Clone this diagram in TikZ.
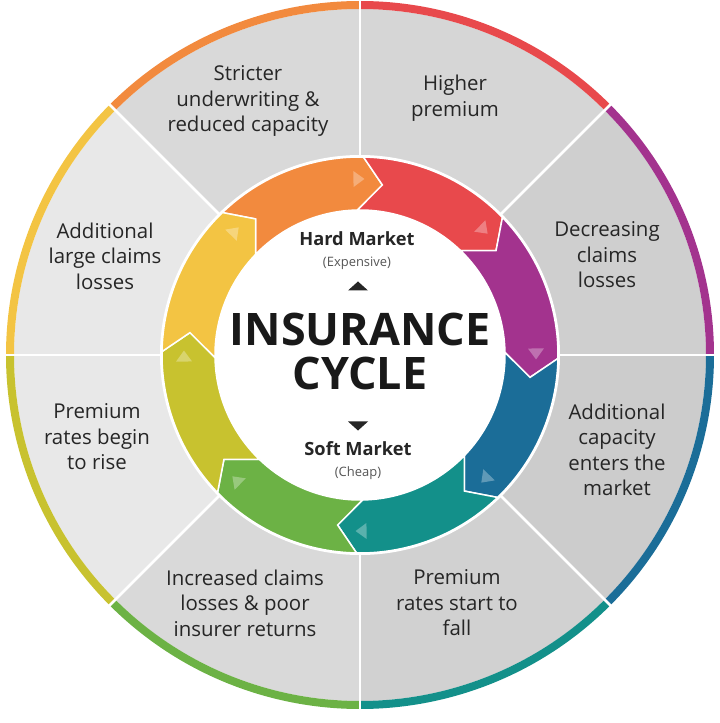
\documentclass[tikz,border=0pt]{standalone}
\usepackage{fontspec}
\setmainfont{Open Sans}
\usepackage{tikz}
\definecolor{cycorange}{HTML}{F28A3E}
\definecolor{cycred}{HTML}{E8494C}
\definecolor{cycpurple}{HTML}{A3338E}
\definecolor{cycblue}{HTML}{1B6D98}
\definecolor{cycteal}{HTML}{13908A}
\definecolor{cycgreen}{HTML}{6CB245}
\definecolor{cycolive}{HTML}{C8C22F}
\definecolor{cycyellow}{HTML}{F3C443}
\definecolor{labelgrey}{HTML}{262626}
\definecolor{notegrey}{HTML}{555555}
% one arrow of the inner ring: colour, tail angle, head angle
\newcommand{\ringseg}[3]{%
	\fill[#1, draw=white, line width=1.5bp] (#2+6.5:198) arc[start angle=#2+6.5, end angle=#3+6.5, radius=198]
	-- (#3:171.5) -- (#3+8.5:145) arc[start angle=#3+8.5, end angle=#2+8.5, radius=145]
	-- (#2:171.5) -- cycle;
	\fill[white, opacity=0.3, shift={(#3+8:176)}, rotate=#3-82] (6,0) -- (-5,8) -- (-5,-8) -- cycle;
}
\begin{document}
\begin{tikzpicture}[x=1bp, y=1bp]
	\tikzstyle{stagetext}=[align=center, text=labelgrey, font=\fontsize{20.5}{25.5}\selectfont]
	\tikzstyle{marketname}=[text=labelgrey, font=\fontsize{18.3}{18}\selectfont\bfseries]
	\tikzstyle{marketnote}=[text=notegrey, font=\fontsize{13}{13}\selectfont]
	\tikzstyle{titletext}=[text=black!90, font=\fontsize{45}{45}\selectfont\bfseries]
	\useasboundingbox (-360,-368) rectangle (360,355);
	%%% GREY SECTORS %%%
	\fill[black!16] (0,0) -- (45:346) arc (45:90:346) -- cycle;
	\fill[black!15] (0,0) -- (90:346) arc (90:135:346) -- cycle;
	\fill[black!9] (0,0) -- (135:346) arc (135:180:346) -- cycle;
	\fill[black!9] (0,0) -- (180:346) arc (180:225:346) -- cycle;
	\fill[black!15] (0,0) -- (225:346) arc (225:270:346) -- cycle;
	\fill[black!18] (0,0) -- (270:346) arc (270:315:346) -- cycle;
	\fill[black!20] (0,0) -- (315:346) arc (315:360:346) -- cycle;
	\fill[black!19] (0,0) -- (0:346) arc (0:45:346) -- cycle;
	%%% OUTER BAND %%%
	\draw[cycred, line width=8bp] (45:350) arc (45:90:350);
	\draw[cycorange, line width=8bp] (90:350) arc (90:135:350);
	\draw[cycyellow, line width=8bp] (135:350) arc (135:180:350);
	\draw[cycolive, line width=8bp] (180:350) arc (180:225:350);
	\draw[cycgreen, line width=8bp] (225:350) arc (225:270:350);
	\draw[cycteal, line width=8bp] (270:350) arc (270:315:350);
	\draw[cycblue, line width=8bp] (315:350) arc (315:360:350);
	\draw[cycpurple, line width=8bp] (0:350) arc (0:45:350);
	%dividers between sectors
	\draw[white, line width=2.5bp] (0:190) -- (0:357);
	\draw[white, line width=2.5bp] (45:190) -- (45:357);
	\draw[white, line width=2.5bp] (90:190) -- (90:357);
	\draw[white, line width=2.5bp] (135:190) -- (135:357);
	\draw[white, line width=2.5bp] (180:190) -- (180:357);
	\draw[white, line width=2.5bp] (225:190) -- (225:357);
	\draw[white, line width=2.5bp] (270:190) -- (270:357);
	\draw[white, line width=2.5bp] (315:190) -- (315:357);
	%%% INNER RING %%%
	\fill[white] (0,0) circle (200);
	\ringseg{cycorange}{127.5}{82.5}
	\ringseg{cycred}{82.5}{37.5}
	\ringseg{cycpurple}{37.5}{-7.5}
	\ringseg{cycblue}{-7.5}{-52.5}
	\ringseg{cycteal}{-52.5}{-97.5}
	\ringseg{cycgreen}{-97.5}{-142.5}
	\ringseg{cycolive}{-142.5}{-187.5}
	\ringseg{cycyellow}{172.5}{127.5}
	%%% CENTRE %%%
	\node[marketname] (hard) at (-3,116) {Hard Market};
	\node[marketnote] (expensive) at (-3,92) {(Expensive)};
	\fill[labelgrey] (-12,64.5) -- (8,64.5) -- (-2,73.5) -- cycle;
	\node[titletext] (insurance) at (0,26) {INSURANCE};
	\node[titletext] (cycle) at (0,-18) {CYCLE};
	\fill[labelgrey] (-12,-66.5) -- (8,-66.5) -- (-2,-75.5) -- cycle;
	\node[marketname] (soft) at (-2,-94) {Soft Market};
	\node[marketnote] (cheap) at (-2,-118) {(Cheap)};
	%%% STAGE LABELS %%%
	\node[stagetext] (stricter) at (-112,254) {Stricter\\underwriting \&\\reduced capacity};
	\node[stagetext] (higher) at (95,257) {Higher\\premium};
	\node[stagetext] (decreasing) at (247,100) {Decreasing\\claims\\losses};
	\node[stagetext] (capacity) at (257,-95) {Additional\\capacity\\enters the\\market};
	\node[stagetext] (ratesfall) at (97,-248) {Premium\\rates start to\\fall};
	\node[stagetext] (increased) at (-115,-248) {Increased claims\\losses \& poor\\insurer returns};
	\node[stagetext] (ratesrise) at (-263,-82) {Premium\\rates begin\\to rise};
	\node[stagetext] (largeclaims) at (-255,99) {Additional\\large claims\\losses};
\end{tikzpicture}
\end{document}
